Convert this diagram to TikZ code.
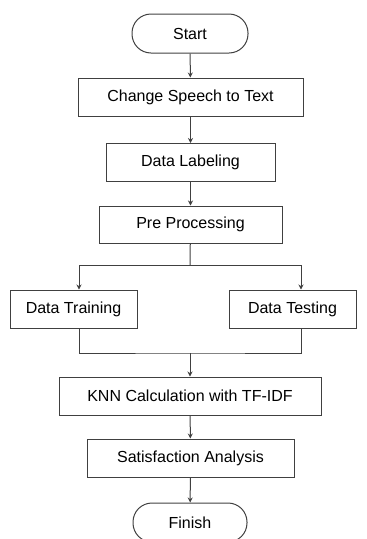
\documentclass[tikz,border=0pt]{standalone}
\usepackage{fontspec}
\setmainfont{Liberation Sans}
\usetikzlibrary{arrows.meta}
\begin{document}
\begin{tikzpicture}[x=1pt,y=-1pt,
  box/.style={draw=black!75,line width=1pt,minimum height=38pt,inner sep=0pt,font=\fontsize{16}{18}\selectfont},
  term/.style={box,rounded corners=19pt,minimum height=39pt},
  pfeil/.style={-{Stealth[length=5pt,width=5pt]},draw=black!75,line width=1pt},
  linie/.style={draw=black!75,line width=1pt}]
\useasboundingbox (0,0) rectangle (367,539);
%Kaestchen von oben nach unten
\node[term,minimum width=116pt] (start) at (190,33.5) {Start};
\node[box,minimum width=225pt] (speech) at (190.5,97) {Change Speech to Text};
\node[box,minimum width=169pt] (label) at (190.5,162.5) {Data Labeling};
\node[box,minimum width=183pt,minimum height=37pt] (pre) at (190.5,224.5) {Pre Processing};
\node[box,minimum width=127pt] (train) at (73.5,309) {Data Training};
\node[box,minimum width=127pt] (test) at (292.5,309) {Data Testing};
\node[box,minimum width=262pt] (knn) at (190,396) {KNN Calculation with TF-IDF};
\node[box,minimum width=207pt] (sat) at (190.5,458) {Satisfaction Analysis};
\node[term,minimum width=114pt] (finish) at (190,522.5) {Finish};
%Verzweigung und Zusammenfuehrung
\coordinate (abzweig) at (190,265);
\coordinate (links) at (79,265);
\coordinate (rechts) at (301,265);
\coordinate (zusammen) at (190,353);
\draw[pfeil] (start) -- (speech);
\draw[pfeil] (speech) -- (label);
\draw[pfeil] (label) -- (pre);
\draw[linie] (pre) -- (abzweig);
\draw[linie] (links) -- (rechts);
\draw[pfeil] (links) -- (links |- train.north);
\draw[pfeil] (rechts) -- (rechts |- test.north);
\draw[linie] (links |- train.south) |- (zusammen) -| (rechts |- test.south);
\draw[pfeil] (zusammen) -- (knn);
\draw[pfeil] (knn) -- (sat);
\draw[pfeil] (sat) -- (finish);
\end{tikzpicture}
\end{document}
